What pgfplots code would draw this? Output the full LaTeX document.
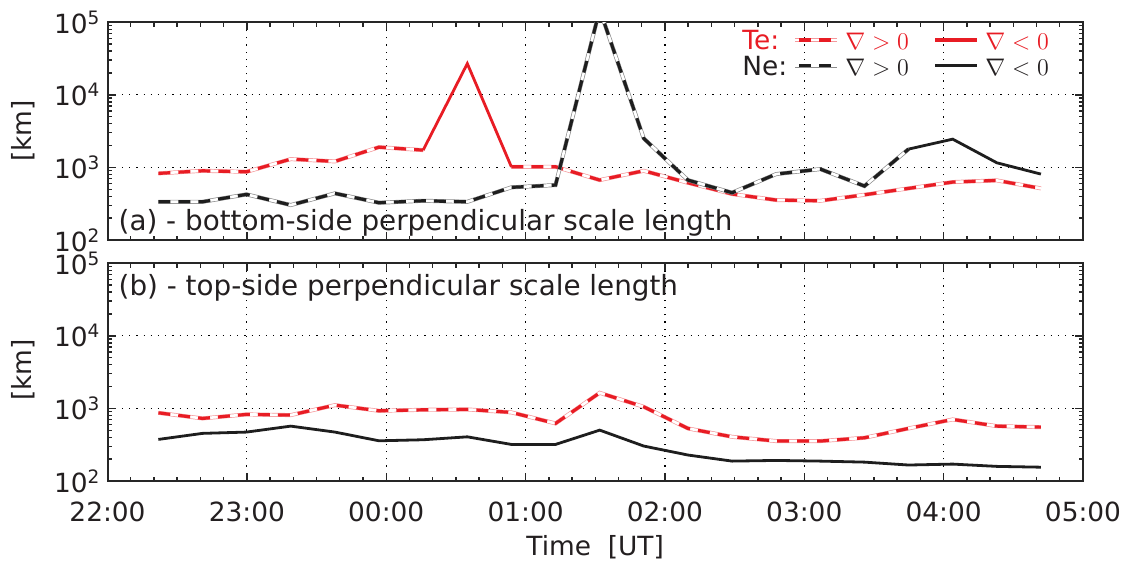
\documentclass[border=0pt]{standalone}
\usepackage{pgfplots}
\pgfplotsset{compat=1.18}
\usepackage{fontspec}
\setmainfont{DejaVu Sans}
\definecolor{tered}{RGB}{232,28,36}
\definecolor{neblk}{RGB}{30,30,30}
\definecolor{txt}{RGB}{35,31,32}
\newcommand{\fs}{\fontsize{13.2}{15}\selectfont}
\newcommand{\fa}{\fontsize{13.9}{16}\selectfont}
\tikzset{
  outlR/.style={draw=tered!45, double=white, line width=0.35pt, double distance=1.3pt},
  outlK/.style={draw=black!45, double=white, line width=0.35pt, double distance=1.3pt},
  dashR/.style={draw=tered, line width=1.6pt, dash pattern=on 6pt off 4pt},
  dashK/.style={draw=neblk, line width=1.6pt, dash pattern=on 6pt off 4pt},
  solR/.style={draw=tered, line width=1.4pt},
  solK/.style={draw=neblk, line width=1.4pt},
}
\begin{document}
\begin{tikzpicture}
\path[use as bounding box] (0,0) rectangle (567pt,-281pt);
% panel (a)
\begin{axis}[at={(53.75pt,-11.1pt)}, anchor=north west,
  scale only axis, width=487.75pt, height=108.9pt,
  xmin=0, xmax=7, ymode=log, ymin=100, ymax=100000,
  xtick={0,1,2,3,4,5,6,7}, minor x tick num=5,
  ytick={100,1000,10000,100000},
  minor ytick={200,300,400,500,600,700,800,900,2000,3000,4000,5000,6000,7000,8000,9000,20000,30000,40000,50000,60000,70000,80000,90000},
  yticklabels={10\textsuperscript{2},10\textsuperscript{3},10\textsuperscript{4},10\textsuperscript{5}},
  xticklabels={},
  grid=major, major grid style={black, dash pattern=on 0.6pt off 3pt, line width=0.6pt},
  axis line style={line width=1pt, black!85},
  tick style={black!85, line width=0.7pt},
  major tick length=4pt, minor tick length=2.2pt,
  tick align=inside,
  tick label style={font=\fs, text=txt},
]
\addplot[outlR] coordinates {(0.365,827) (0.682,898) (0.998,870) (1.315,1301) (1.632,1210) (1.948,1900) (2.265,1730)};
\addplot[dashR] coordinates {(0.365,827) (0.682,898) (0.998,870) (1.315,1301) (1.632,1210) (1.948,1900) (2.265,1730)};
\addplot[outlR] coordinates {(2.898,1020) (3.215,1020) (3.532,669) (3.848,898) (4.165,614) (4.482,430) (4.798,355) (5.115,347) (5.432,420) (5.748,514) (6.065,628) (6.382,662) (6.698,514)};
\addplot[dashR] coordinates {(2.898,1020) (3.215,1020) (3.532,669) (3.848,898) (4.165,614) (4.482,430) (4.798,355) (5.115,347) (5.432,420) (5.748,514) (6.065,628) (6.382,662) (6.698,514)};
\addplot[solR] coordinates {(2.265,1730) (2.582,26900) (2.898,1020)};
\addplot[outlK] coordinates {(0.365,336) (0.682,336) (0.998,425) (1.315,303) (1.632,439) (1.948,326) (2.265,347) (2.582,336) (2.898,531) (3.215,571) (3.532,150000) (3.848,2508) (4.165,668) (4.482,448) (4.798,809) (5.115,948) (5.432,553) (5.748,1786)};
\addplot[dashK] coordinates {(0.365,336) (0.682,336) (0.998,425) (1.315,303) (1.632,439) (1.948,326) (2.265,347) (2.582,336) (2.898,531) (3.215,571) (3.532,150000) (3.848,2508) (4.165,668) (4.482,448) (4.798,809) (5.115,948) (5.432,553) (5.748,1786)};
\addplot[solK] coordinates {(5.748,1786) (6.065,2450) (6.382,1157) (6.698,809)};
\end{axis}
% panel (b)
\begin{axis}[at={(53.75pt,-131.6pt)}, anchor=north west,
  scale only axis, width=487.75pt, height=108.9pt,
  xmin=0, xmax=7, ymode=log, ymin=100, ymax=100000,
  xtick={0,1,2,3,4,5,6,7}, minor x tick num=5,
  ytick={100,1000,10000,100000},
  minor ytick={200,300,400,500,600,700,800,900,2000,3000,4000,5000,6000,7000,8000,9000,20000,30000,40000,50000,60000,70000,80000,90000},
  yticklabels={10\textsuperscript{2},10\textsuperscript{3},10\textsuperscript{4},10\textsuperscript{5}},
  xticklabels={22:00,23:00,00:00,01:00,02:00,03:00,04:00,05:00},
  grid=major, major grid style={black, dash pattern=on 0.6pt off 3pt, line width=0.6pt},
  axis line style={line width=1pt, black!85},
  tick style={black!85, line width=0.7pt},
  major tick length=4pt, minor tick length=2.2pt,
  tick align=inside,
  tick label style={font=\fs, text=txt},
  xticklabel style={yshift=-7pt},
]
\addplot[outlR] coordinates {(0.365,869) (0.682,728) (0.998,827) (1.315,809) (1.632,1110) (1.948,927) (2.265,957) (2.582,968) (2.898,881) (3.215,621) (3.532,1640) (3.848,1052) (4.165,530) (4.482,406) (4.798,355) (5.115,355) (5.432,394) (5.748,530) (6.065,705) (6.382,570) (6.698,552)};
\addplot[dashR] coordinates {(0.365,869) (0.682,728) (0.998,827) (1.315,809) (1.632,1110) (1.948,927) (2.265,957) (2.582,968) (2.898,881) (3.215,621) (3.532,1640) (3.848,1052) (4.165,530) (4.482,406) (4.798,355) (5.115,355) (5.432,394) (5.748,530) (6.065,705) (6.382,570) (6.698,552)};
\addplot[solK] coordinates {(0.365,374) (0.682,453) (0.998,472) (1.315,570) (1.632,472) (1.948,358) (2.265,370) (2.582,406) (2.898,319) (3.215,319) (3.532,502) (3.848,303) (4.165,228) (4.482,188) (4.798,192) (5.115,188) (5.432,182) (5.748,166) (6.065,171) (6.382,159) (6.698,155)};
\end{axis}
% annotations
\node[anchor=base west, text=txt, font=\fa, inner sep=0pt] at (59.15pt,-115pt) {(a) - bottom-side perpendicular scale length};
\node[anchor=base west, text=txt, font=\fa, inner sep=0pt] at (59.15pt,-147.5pt) {(b) - top-side perpendicular scale length};
\node[rotate=90, text=txt, font=\fs] at (11.5pt,-65.4pt) {[km]};
\node[rotate=90, text=txt, font=\fs] at (11.5pt,-185pt) {[km]};
\node[text=txt, font=\fs] at (297.6pt,-273.7pt) {Time\ \ [UT]};
% legend
\node[anchor=base west, text=tered, font=\fs, inner sep=0pt] at (371pt,-24.6pt) {Te:};
\draw[outlR] (397.5pt,-20pt) -- (418.5pt,-20pt);
\draw[dashR, dash phase=-2pt] (397.5pt,-20pt) -- (418.5pt,-20pt);
\node[anchor=base west, text=tered, font=\fs, inner sep=0pt] at (422.5pt,-24.6pt) {$\nabla>0$};
\draw[solR, line width=1.8pt] (467.5pt,-20pt) -- (488.5pt,-20pt);
\node[anchor=base west, text=tered, font=\fs, inner sep=0pt] at (492.5pt,-24.6pt) {$\nabla<0$};
\node[anchor=base west, text=txt, font=\fs, inner sep=0pt] at (371pt,-37.5pt) {Ne:};
\draw[outlK] (397.5pt,-32.8pt) -- (418.5pt,-32.8pt);
\draw[dashK, dash phase=-2pt] (397.5pt,-32.8pt) -- (418.5pt,-32.8pt);
\node[anchor=base west, text=txt, font=\fs, inner sep=0pt] at (422.5pt,-37.5pt) {$\nabla>0$};
\draw[solK, line width=1.8pt] (467.5pt,-32.8pt) -- (488.5pt,-32.8pt);
\node[anchor=base west, text=txt, font=\fs, inner sep=0pt] at (492.5pt,-37.5pt) {$\nabla<0$};
\end{tikzpicture}
\end{document}
